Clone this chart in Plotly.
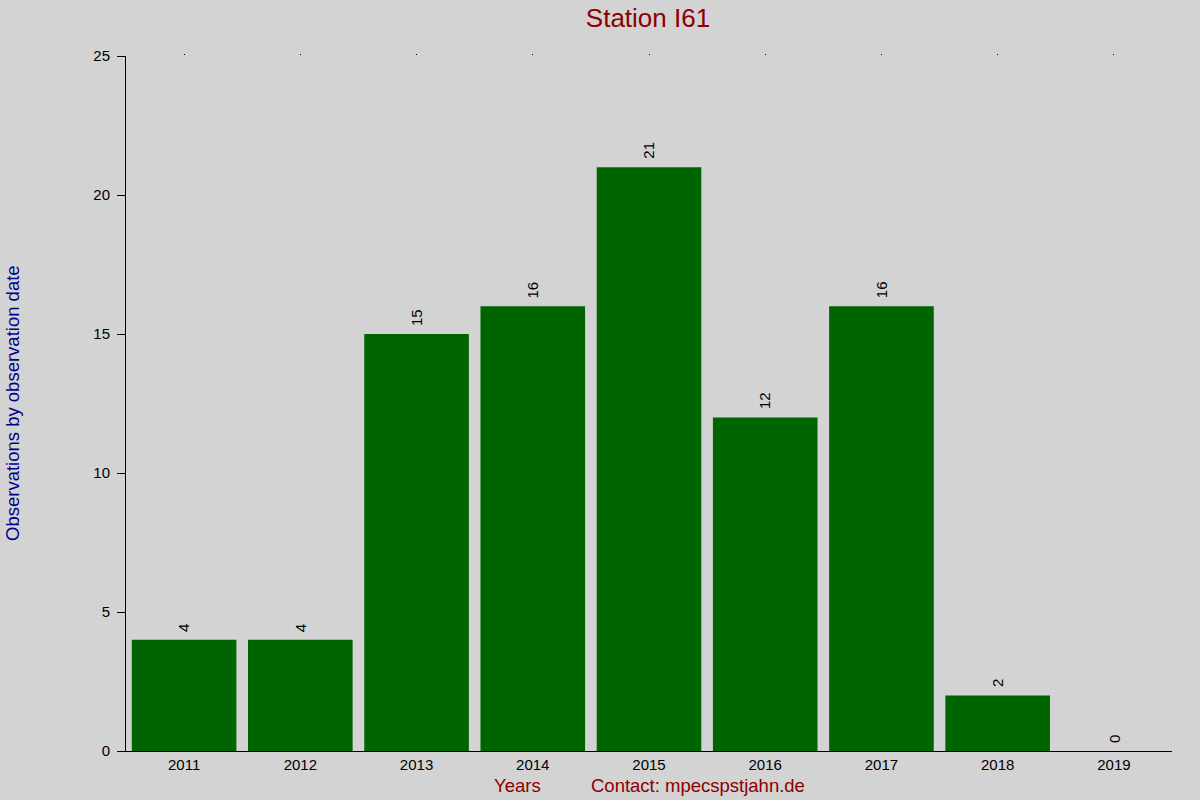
import plotly.graph_objects as go

years = ["2011", "2012", "2013", "2014", "2015", "2016", "2017", "2018", "2019"]
observations = [4, 4, 15, 16, 21, 12, 16, 2, 0]
y_ticks = [0, 5, 10, 15, 20, 25]


def main():
    fig = go.Figure()
    fig.add_trace(go.Bar(
        x=years, y=observations,
        marker=dict(color="#006400", line=dict(width=0)),
        width=0.9, hoverinfo="x+y",
    ))
    # tiny tick dots along the top
    fig.add_trace(go.Scatter(x=years, y=[None] * len(years), xaxis="x2",
                             showlegend=False, hoverinfo="skip"))

    # value labels above the bars, rotated (category index as x position)
    for i, v in enumerate(observations):
        fig.add_annotation(x=i, y=v, xref="x", yref="y", text=str(v),
                           textangle=-90, showarrow=False,
                           yanchor="bottom", yshift=6,
                           font=dict(size=15, color="black"))

    fig.update_layout(
        width=1200, height=800,
        paper_bgcolor="#D3D3D3", plot_bgcolor="#D3D3D3",
        margin=dict(l=126, r=28, t=56, b=49),
        font=dict(family="Liberation Sans", size=15, color="black"),
        showlegend=False,
        title=dict(text="Station I61", x=0.54, xanchor="center", y=0.978,
                   yanchor="middle",
                   font=dict(size=26, color="#8B0000")),
        xaxis=dict(type="category", range=[-0.5, 8.5], showline=True,
                   linecolor="black", linewidth=1, ticks="", showgrid=False,
                   tickfont=dict(size=15), zeroline=False),
        xaxis2=dict(type="category", range=[-0.5, 8.5], overlaying="x",
                    side="top", ticks="outside", ticklen=1, tickcolor="black",
                    showticklabels=False, showgrid=False, showline=False),
        yaxis=dict(range=[0, 25], tickvals=y_ticks, showline=True,
                   linecolor="black", linewidth=1, ticks="outside", ticklen=8,
                   tickcolor="black", showgrid=False, zeroline=False,
                   tickfont=dict(size=15), ticklabelstandoff=4),
        bargap=0.1,
    )

    # axis captions placed in pixel terms
    pw, ph = 1200 - 126 - 28, 800 - 56 - 49
    captions = [
        ("Observations by observation date", 12, 403, -90, "#00008B"),
        ("Years", 517, 786, 0, "#8B0000"),
        ("Contact: mpecspstjahn.de", 698, 786, 0, "#8B0000"),
    ]
    for text, px, py, ang, col in captions:
        fig.add_annotation(text=text, textangle=ang, showarrow=False,
                           x=(px - 126) / pw, y=(751 - py) / ph,
                           xref="paper", yref="paper",
                           xanchor="center", yanchor="middle",
                           font=dict(size=18.5, color=col))

    fig.write_html("out.html", config={"displayModeBar": False},
                   post_script="document.body.style.margin='0';")


if __name__ == "__main__":
    main()
